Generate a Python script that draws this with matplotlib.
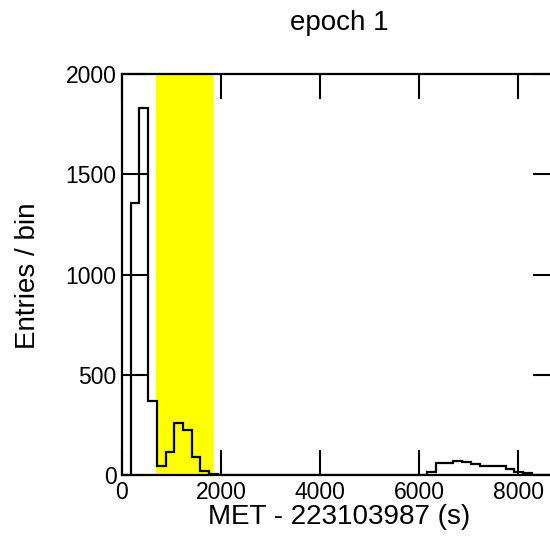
import matplotlib

matplotlib.use('Agg')

import numpy as np
import matplotlib.pyplot as plt

plt.rcParams['font.family'] = ['Liberation Sans', 'DejaVu Sans']

# histogram: 50 bins over 0..8800 s
x_min = 0
x_max = 8800
n_bins = 50
counts = [0, 1355, 1830, 370, 45, 115, 260, 225, 90, 20,
          5, 0, 0, 0, 0, 0, 0, 0, 0, 0,
          0, 0, 0, 0, 0, 0, 0, 0, 0, 0,
          0, 0, 0, 0, 0, 15, 60, 61, 71, 66,
          56, 46, 46, 44, 31, 16, 10, 0, 0, 0]
# highlighted time window
band = [685, 1830]

x_ticks = [0, 2000, 4000, 6000, 8000]
y_ticks = [0, 500, 1000, 1500, 2000]

edges = np.linspace(x_min, x_max, n_bins + 1)

fig = plt.figure(figsize=(5.5, 5.37), dpi=100)
ax = fig.add_axes([122 / 550, 1 - 475 / 537, (558 - 122) / 550, (475 - 74) / 537])

ax.axvspan(band[0], band[1], color='#ffff00', zorder=0, lw=0)
ax.stairs(counts, edges, color='black', lw=1.6, zorder=2)

ax.set_xlim(x_min, x_max)
ax.set_ylim(0, 2000)
ax.set_xticks(x_ticks)
ax.set_yticks(y_ticks)
ax.tick_params(direction='in', length=18, width=1.5, top=True, right=True,
               labelsize=16.5, pad=4)
for s in ax.spines.values():
    s.set_linewidth(1.6)

fig.text(339 / 550, 1 - 23 / 537, 'epoch 1', ha='center', va='center', fontsize=20)
fig.text(339 / 550, 1 - 517 / 537, 'MET - 223103987 (s)', ha='center', va='center', fontsize=20)
fig.text(28 / 550, 1 - 276 / 537, 'Entries / bin', ha='center', va='center',
         rotation=90, fontsize=20)

plt.savefig('out.png', dpi=100)
